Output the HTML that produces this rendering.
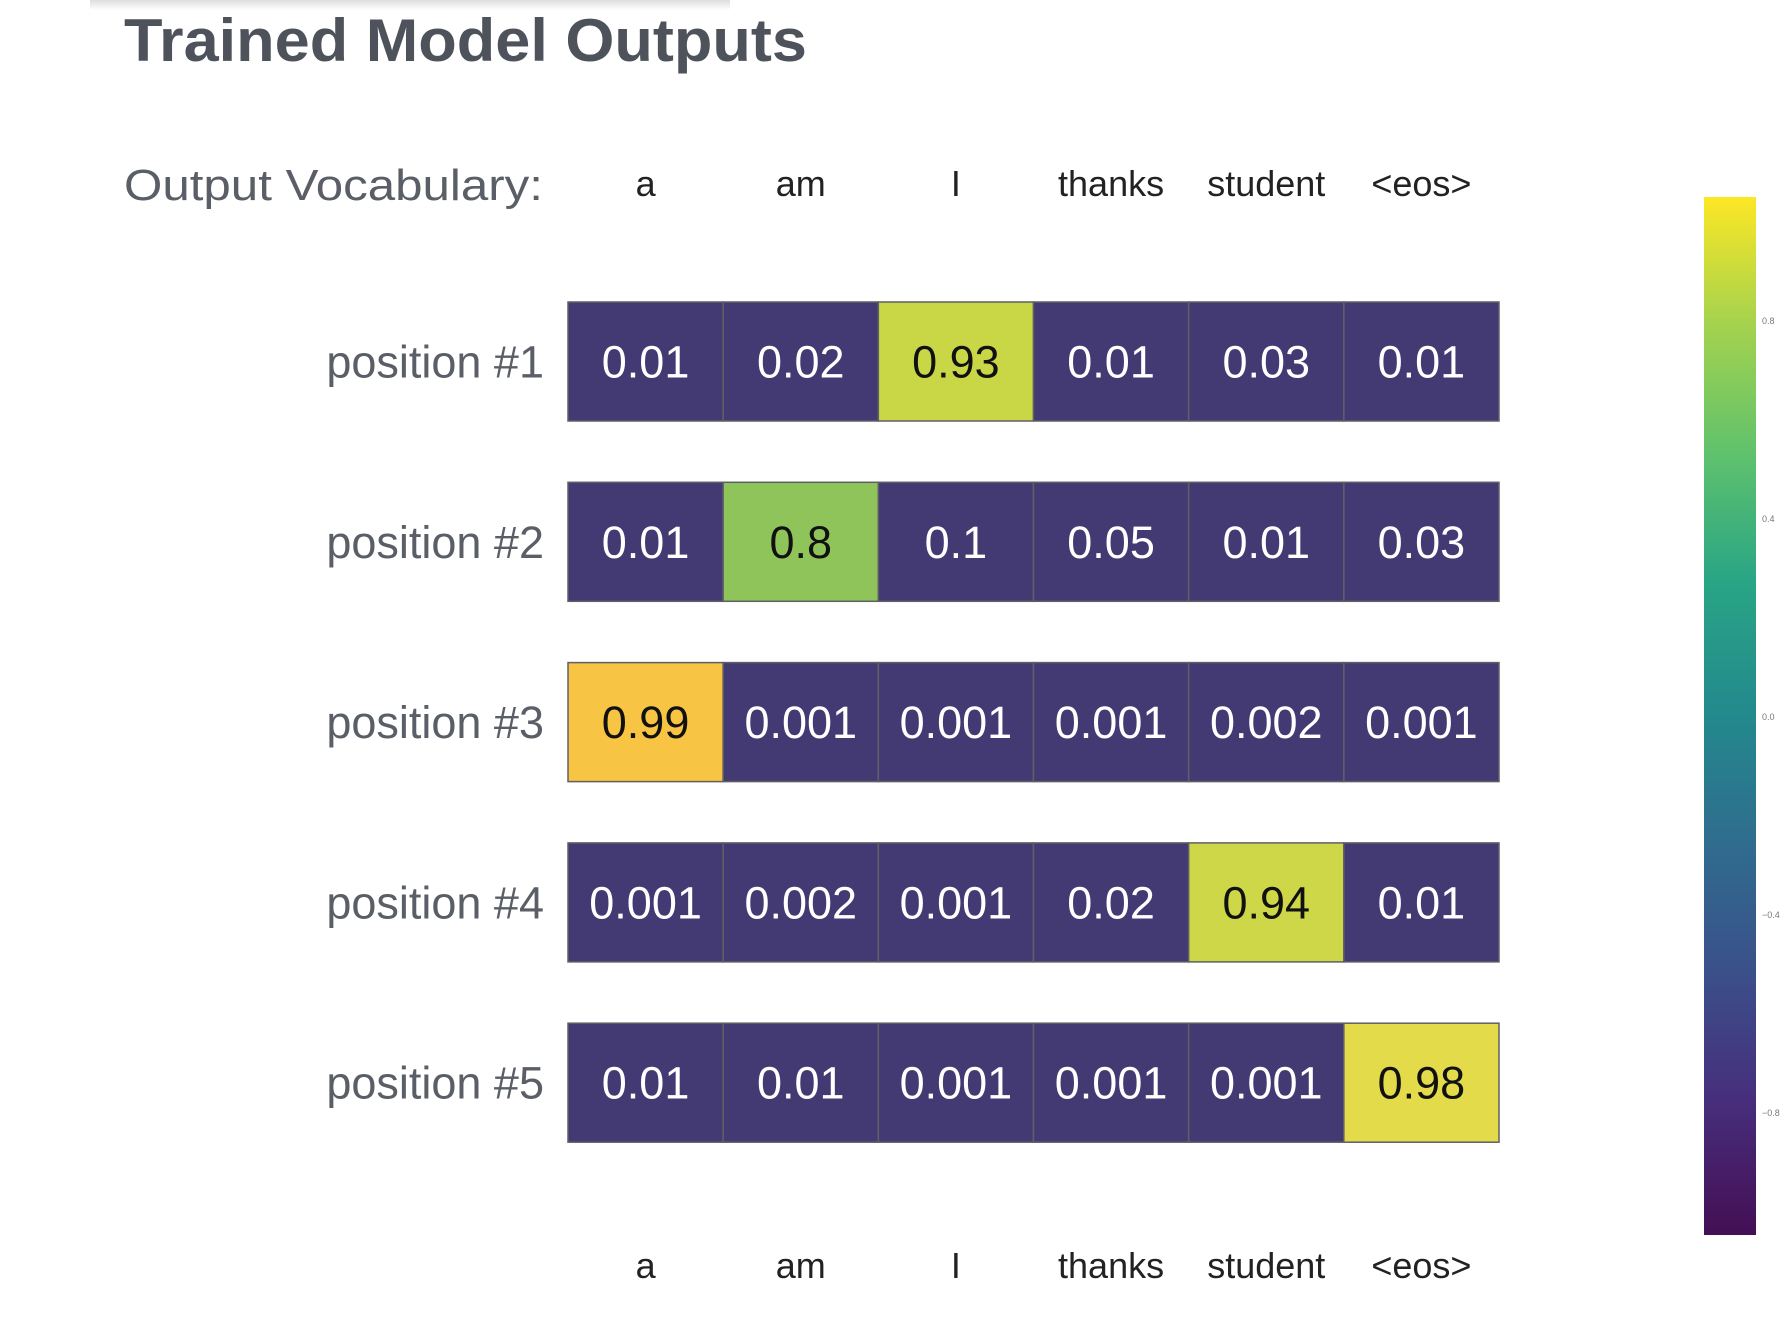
<!DOCTYPE html>
<html><head><meta charset="utf-8"><style>
html,body{margin:0;padding:0;background:#fff;}
svg{display:block;font-family:"Liberation Sans",sans-serif;}
</style></head><body>
<svg id="chart" width="1784" height="1318" viewBox="0 0 1784 1318">
<defs>
<linearGradient id="vir" x1="0" y1="1" x2="0" y2="0">
<stop offset="0" stop-color="#440f54"/><stop offset="0.13" stop-color="#472e7c"/><stop offset="0.25" stop-color="#3b4f8a"/><stop offset="0.38" stop-color="#2f6d8e"/><stop offset="0.5" stop-color="#23898d"/><stop offset="0.63" stop-color="#29a585"/><stop offset="0.75" stop-color="#5ec16d"/><stop offset="0.88" stop-color="#a6d34d"/><stop offset="1" stop-color="#fde725"/>
</linearGradient>
<linearGradient id="shadow" x1="0" y1="0" x2="0" y2="1"><stop offset="0" stop-color="#ddd"/><stop offset="1" stop-color="#fff"/></linearGradient>
</defs>
<rect x="90" y="0" width="640" height="10" fill="url(#shadow)"/>
<text x="124" y="61" font-size="60" font-weight="bold" fill="#4e535b" textLength="683" lengthAdjust="spacingAndGlyphs">Trained Model Outputs</text>
<text x="124" y="200" font-size="44" fill="#5a5e66" textLength="419" lengthAdjust="spacingAndGlyphs">Output Vocabulary:</text>
<g id="cells"></g>
<rect x="1704" y="197" width="52" height="1038" fill="url(#vir)"/>
<g id="cbticks" font-size="9" fill="#777"></g>
</svg>
<script>
const vocab = ["a","am","I","thanks","student","<eos>"];
const rowLabels = ["position #1","position #2","position #3","position #4","position #5"];
const values = [
 [0.01,0.02,0.93,0.01,0.03,0.01],
 [0.01,0.8,0.1,0.05,0.01,0.03],
 [0.99,0.001,0.001,0.001,0.002,0.001],
 [0.001,0.002,0.001,0.02,0.94,0.01],
 [0.01,0.01,0.001,0.001,0.001,0.98]
];
const cbTicks = [0.8,0.4,0.0,-0.4,-0.8];
const labels = [
 ["0.01","0.02","0.93","0.01","0.03","0.01"],
 ["0.01","0.8","0.1","0.05","0.01","0.03"],
 ["0.99","0.001","0.001","0.001","0.002","0.001"],
 ["0.001","0.002","0.001","0.02","0.94","0.01"],
 ["0.01","0.01","0.001","0.001","0.001","0.98"]
];
const NS="http://www.w3.org/2000/svg";
const gx0=568, gx1=1499, cw=(gx1-gx0)/vocab.length;
const ry0=302, rpitch=180.3, rh=119;
const xc=i=>gx0+cw*i;
const yr=j=>ry0+rpitch*j;
const cbY=v=>717+(v-0)*(321-717)/0.8;
function hex(c){return [1,3,5].map(i=>parseInt(c.substr(i,2),16));}
function lerp(a,b,t){const A=hex(a),B=hex(b);return "rgb("+A.map((x,i)=>Math.round(x+(B[i]-x)*t)).join(",")+")";}
function color(v){
 const st=[[0,"#433a73"],[0.3,"#433a73"],[0.55,"#3f8a8c"],[0.8,"#8fc45a"],[0.93,"#c9d646"],[0.98,"#e3db4a"],[0.99,"#f8c443"],[1,"#f8c443"]];
 for(let k=1;k<st.length;k++){if(v<=st[k][0]){const t=(v-st[k-1][0])/(st[k][0]-st[k-1][0]);return lerp(st[k-1][1],st[k][1],t);}}
 return "#f8c443";
}
function mk(tag,attrs,parent){const e=document.createElementNS(NS,tag);for(const k in attrs)e.setAttribute(k,attrs[k]);parent.appendChild(e);return e;}
const g=document.getElementById("cells");
const svg=document.getElementById("chart");
vocab.forEach((w,i)=>{
 const t=mk("text",{x:xc(i)+cw/2,y:196,"font-size":36,"text-anchor":"middle",fill:"#222"},svg);
 t.textContent=w;
 
 
 const b=mk("text",{x:xc(i)+cw/2,y:1278,"font-size":36,"text-anchor":"middle",fill:"#222"},svg);
 b.textContent=w;
 
 
});
rowLabels.forEach((lab,j)=>{
 const t=mk("text",{x:544,y:yr(j)+rh/2+16,"font-size":45,"text-anchor":"end",fill:"#5a5e66"},svg);
 t.textContent=lab;
 
 
 values[j].forEach((v,i)=>{
  const r=mk("rect",{x:xc(i),y:yr(j),width:cw,height:rh,fill:color(v),stroke:"#5f5f66","stroke-width":1.5},g);
  
  
  const tx=mk("text",{x:xc(i)+cw/2,y:yr(j)+rh/2+16,"font-size":45,"text-anchor":"middle",fill:v>0.5?"#111":"#fff"},g);
  tx.textContent=labels[j][i];
  
  
 });
});
const cb=document.getElementById("cbticks");
cbTicks.forEach(v=>{
 const t=mk("text",{x:1762,y:cbY(v)+3},cb);
 t.textContent=(v<0?"\u2212":"")+Math.abs(v).toFixed(1);
 
 
});
</script>
</body></html>
